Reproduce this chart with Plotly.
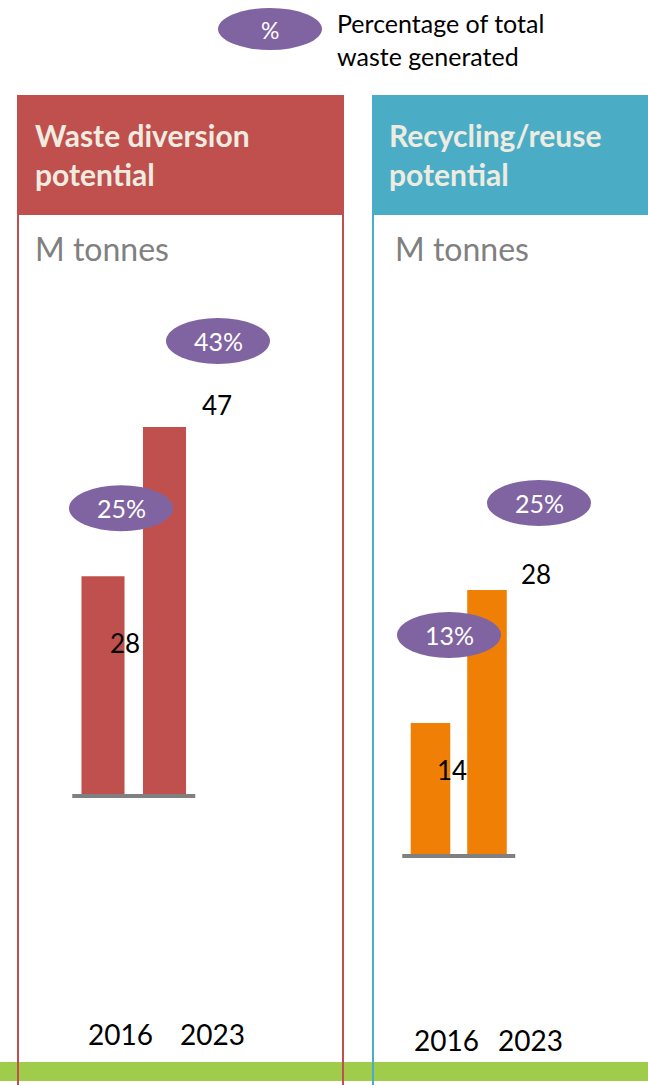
import plotly.graph_objects as go

# ---- data ----
years = ["2016", "2023"]
diversion_mt = [28, 47]
diversion_pct = [25, 43]
recycling_mt = [14, 28]
recycling_pct = [13, 25]

panel_titles = ["Waste diversion<br>potential", "Recycling/reuse<br>potential"]
unit_label = "M tonnes"
legend_symbol = "%"
legend_text = "Percentage of total<br>waste generated"

# ---- styling ----
W, H = 648, 1085
RED = "#C0504D"
TEAL = "#4BACC6"
ORANGE = "#F07F06"
PURPLE = "#8064A2"
GREEN = "#A0CC4C"
GREY = "#808080"
CREAM = "#EEECE1"
FONT = "Lato"


def px(x):
    return x / W


def py(y):
    return 1 - y / H


fig = go.Figure()
fig.add_trace(go.Bar(x=years, y=diversion_mt, marker=dict(color=RED, line_width=0),
                     xaxis="x", yaxis="y", showlegend=False, hoverinfo="skip"))
fig.add_trace(go.Bar(x=years, y=recycling_mt, marker=dict(color=ORANGE, line_width=0),
                     xaxis="x2", yaxis="y2", showlegend=False, hoverinfo="skip"))

axis_common = dict(showgrid=False, zeroline=False, showticklabels=False, ticks="",
                   fixedrange=True, visible=False)

# panel geometry (pixels): x-domain, first category centre, category spacing,
# y-domain, zero line and pixels per unit
L = dict(x0=17, x1=344, c0=103.0, s=61.5, yb=1000, yt=295, z=796, k=7.85)
R = dict(x0=372, x1=648, c0=430.5, s=56.5, yb=1000, yt=355, z=856, k=9.5)


def xaxis_for(g, anchor):
    return dict(domain=[px(g["x0"]), px(g["x1"])], anchor=anchor, type="category",
                categoryorder="array", categoryarray=years,
                range=[-(g["c0"] - g["x0"]) / g["s"], (g["x1"] - g["c0"]) / g["s"]],
                **axis_common)


def yaxis_for(g, anchor):
    return dict(domain=[py(g["yb"]), py(g["yt"])], anchor=anchor,
                range=[-(g["yb"] - g["z"]) / g["k"], (g["z"] - g["yt"]) / g["k"]],
                **axis_common)


fig.update_layout(
    width=W, height=H,
    margin=dict(l=0, r=0, t=0, b=0),
    paper_bgcolor="white", plot_bgcolor="rgba(0,0,0,0)",
    bargap=0.3,
    font=dict(family=FONT, color="black"),
    xaxis=xaxis_for(L, "y"), yaxis=yaxis_for(L, "x"),
    xaxis2=xaxis_for(R, "y2"), yaxis2=yaxis_for(R, "x2"),
)

shapes = []
# green footer band
shapes.append(dict(type="rect", xref="paper", yref="paper", x0=0, x1=1, y0=py(1081), y1=py(1062),
                   fillcolor=GREEN, line_width=0, layer="below"))
# headers
shapes.append(dict(type="rect", xref="paper", yref="paper", x0=px(17), x1=px(344), y0=py(215), y1=py(95),
                   fillcolor=RED, line_width=0, layer="below"))
shapes.append(dict(type="rect", xref="paper", yref="paper", x0=px(372), x1=px(648), y0=py(215), y1=py(95),
                   fillcolor=TEAL, line_width=0, layer="below"))
# panel borders
for xx, col in [(18, RED), (343, RED), (373, TEAL)]:
    shapes.append(dict(type="line", xref="paper", yref="paper", x0=px(xx), x1=px(xx), y0=py(1085), y1=py(95),
                       line=dict(color=col, width=2), layer="above"))
# legend ellipse
shapes.append(dict(type="circle", xref="paper", yref="paper", x0=px(218), x1=px(322), y0=py(50), y1=py(8),
                   fillcolor=PURPLE, line_width=0, layer="above"))
# baselines (category axis from first to last slot, at zero)
for xr, yr in [("x", "y"), ("x2", "y2")]:
    shapes.append(dict(type="line", xref=xr, yref=yr, x0=-0.5, x1=len(years) - 0.5, y0=0, y1=0,
                       line=dict(color=GREY, width=4), layer="above"))

annotations = []

# ellipse (pixel) offsets relative to bar tops, per panel
ell_offsets = {
    "x": [(18, 68), (53.5, 86)],
    "x2": [(18.5, 88), (52, 87)],
}
val_offsets = {
    "x": [(22, -67), (52.5, 22)],
    "x2": [(21.5, -47), (49, 16)],
}
year_shift = {"x": [17, 48], "x2": [15.5, 43.5]}
year_y = {"x": 1034, "x2": 1040}

for xr, yr, vals, pcts in [("x", "y", diversion_mt, diversion_pct), ("x2", "y2", recycling_mt, recycling_pct)]:
    for i, (cat, v, p) in enumerate(zip(years, vals, pcts)):
        dx, up = ell_offsets[xr][i]
        # category axes: position by category index
        shapes.append(dict(type="circle", xref=xr, yref=yr, xsizemode="pixel", ysizemode="pixel",
                           xanchor=i, yanchor=v, x0=dx - 52, x1=dx + 52, y0=up - 23, y1=up + 23,
                           fillcolor=PURPLE, line_width=0, layer="above"))
        annotations.append(dict(xref=xr, yref=yr, x=i, y=v, xshift=dx, yshift=up, text=f"{p}%",
                                showarrow=False, font=dict(size=25, color="white", family=FONT),
                                xanchor="center", yanchor="middle"))
        vx, vy = val_offsets[xr][i]
        annotations.append(dict(xref=xr, yref=yr, x=i, y=v, xshift=vx, yshift=vy, text=str(v),
                                showarrow=False, font=dict(size=26, color="black", family=FONT),
                                xanchor="center", yanchor="middle"))
        annotations.append(dict(xref=xr, yref="paper", x=i, y=py(year_y[xr]), xshift=year_shift[xr][i],
                                text=cat, showarrow=False, font=dict(size=28, color="black", family=FONT),
                                xanchor="center", yanchor="middle"))

# header titles and unit labels
for title, tx, ux in [(panel_titles[0], 33, 33), (panel_titles[1], 387, 393)]:
    annotations.append(dict(xref="paper", yref="paper", x=px(tx), y=py(155), text=f"<b>{title}</b>",
                            showarrow=False, align="left", xanchor="left", yanchor="middle",
                            font=dict(size=30, color=CREAM, family=FONT)))
    annotations.append(dict(xref="paper", yref="paper", x=px(ux), y=py(249), text=unit_label,
                            showarrow=False, align="left", xanchor="left", yanchor="middle",
                            font=dict(size=32, color=GREY, family=FONT)))

# legend
annotations.append(dict(xref="paper", yref="paper", x=px(270), y=py(30), text=legend_symbol,
                        showarrow=False, xanchor="center", yanchor="middle",
                        font=dict(size=23, color="white", family=FONT)))
annotations.append(dict(xref="paper", yref="paper", x=px(335), y=py(39), text=legend_text,
                        showarrow=False, align="left", xanchor="left", yanchor="middle",
                        font=dict(size=25, color="black", family=FONT)))

fig.update_layout(shapes=shapes, annotations=annotations)
fig.write_html("out.html", config={"displayModeBar": False},
               post_script="document.body.style.margin='0';")
